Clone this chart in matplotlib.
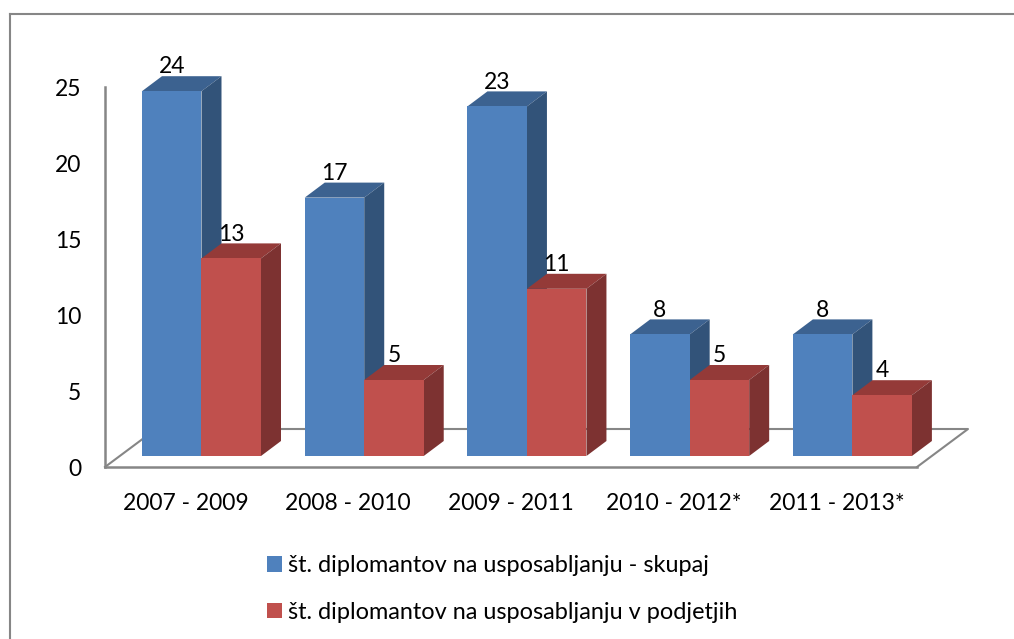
import numpy as np
import matplotlib.pyplot as plt
from matplotlib.patches import Patch, Polygon
from matplotlib.lines import Line2D

obdobja = ['2007 - 2009', '2008 - 2010', '2009 - 2011', '2010 - 2012*', '2011 - 2013*']
skupaj = [24, 17, 23, 8, 8]
v_podjetjih = [13, 5, 11, 5, 4]
y_ticks = [0, 5, 10, 15, 20, 25]
ime_skupaj = 'št. diplomantov na usposabljanju - skupaj'
ime_podjetja = 'št. diplomantov na usposabljanju v podjetjih'

plt.rcParams['font.family'] = ['Lato', 'DejaVu Sans']
W, H = 1014, 639
SIV = '#868686'

fig = plt.figure(figsize=(W / 100, H / 100), dpi=100)

# okvir grafa (desni in spodnji rob sta odrezana)
fig.add_artist(Line2D([9.5 / W, 9.5 / W], [0, 1 - 14 / H], color=SIV, lw=1.5))
fig.add_artist(Line2D([9.5 / W, 1], [1 - 14 / H, 1 - 14 / H], color=SIV, lw=1.5))

# os: 105..917 px, 467..87 px
ax = fig.add_axes([105 / W, 1 - 467 / H, 812 / W, 380 / H])
ax.set_xlim(-0.593, 4.397)
ax.set_ylim(0, 25)
ax.set_facecolor('none')
for s in ['top', 'right']:
    ax.spines[s].set_visible(False)
for s in ['left', 'bottom']:
    ax.spines[s].set_color(SIV)
    ax.spines[s].set_linewidth(1.8)

px_x = 4.99 / 812
px_y = 25 / 380
sirina = 59.5 * px_x
dx = 20 * px_x
dy = 15 * px_y
osnova = 11 * px_y
x = np.arange(len(obdobja))


def stolpec(x0, v, barva, vrh, bok):
    # sprednja ploskev + vrh + bok, da izgleda 3D
    y1 = osnova + v
    ax.bar(x0, v, sirina, bottom=osnova, align='edge', color=barva, zorder=3)
    ax.add_patch(Polygon([[x0, y1], [x0 + dx, y1 + dy], [x0 + sirina + dx, y1 + dy], [x0 + sirina, y1]],
                         color=vrh, lw=0, zorder=2, clip_on=False))
    ax.add_patch(Polygon([[x0 + sirina, osnova], [x0 + sirina + dx, osnova + dy], [x0 + sirina + dx, y1 + dy], [x0 + sirina, y1]],
                         color=bok, lw=0, zorder=2, clip_on=False))
    ax.annotate(str(v), (x0 + sirina / 2, y1 + dy), xytext=(0, 2), textcoords='offset points',
                ha='center', va='baseline', fontsize=16.5, color='black', zorder=5, annotation_clip=False)


# tla
fx = 51 * px_x
fy = 38 * px_y
xmin, xmax = ax.get_xlim()
ax.plot([xmin, xmin + fx, xmax + fx, xmax], [0, fy, fy, 0], color=SIV, lw=1.5, zorder=1, clip_on=False)

for i in x:
    stolpec(i - sirina, skupaj[i], '#4F81BD', '#3C6290', '#325379')
for i in x:
    stolpec(i, v_podjetjih[i], '#C0504D', '#943A38', '#7D3231')

ax.set_yticks(y_ticks)
# oznake so v originalu malo levo od sredine skupine
ax.set_xticks(x - 16 * px_x)
ax.set_xticklabels(obdobja)
ax.tick_params(axis='both', length=0, labelsize=16.5)
ax.tick_params(axis='y', pad=17)
ax.tick_params(axis='x', pad=18.7)

handles = [Patch(color='#4F81BD', lw=0), Patch(color='#C0504D', lw=0)]
fig.legend(handles, [ime_skupaj, ime_podjetja], loc='upper left', bbox_to_anchor=(267 / W, 1 - 555 / H),
           frameon=False, fontsize=16.9, borderpad=0, borderaxespad=0, handlelength=0.64, handleheight=0.64,
           handletextpad=0.26, labelspacing=1.1)

fig.savefig('out.png', dpi=100)
